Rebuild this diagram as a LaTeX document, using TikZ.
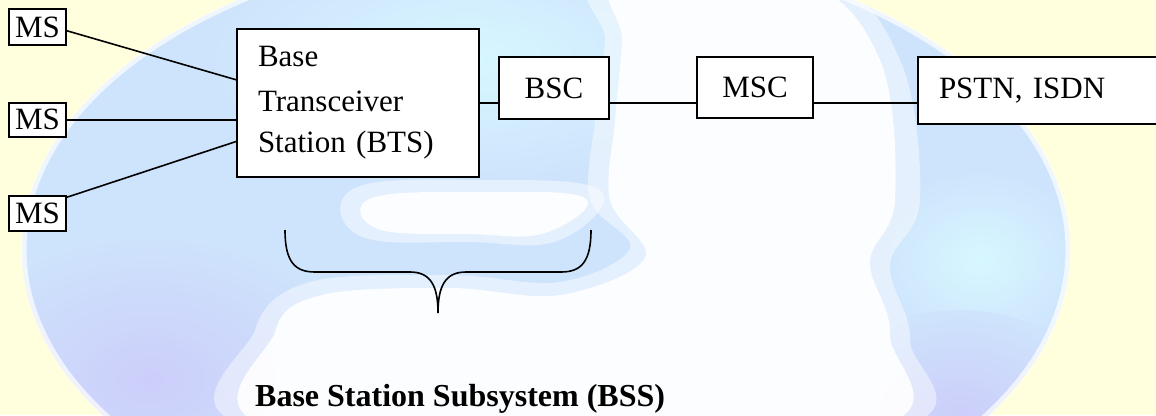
\documentclass[tikz,border=0pt]{standalone}
\usepackage{fontspec}
\setmainfont{LiberationSerif-Regular.ttf}[BoldFont=LiberationSerif-Bold.ttf]
\usetikzlibrary{calc}
\definecolor{bgyellow}{RGB}{255,255,222}
\definecolor{globeblue}{RGB}{206,228,252}
\definecolor{globeedge}{RGB}{204,206,250}
\definecolor{globecyan}{RGB}{215,247,255}
\tikzset{
  box/.style={draw=black, line width=2pt, fill=white, inner sep=0pt,
    font=\fontsize{31}{37}\selectfont},
  link/.style={draw=black, line width=1.6pt},
  land/.style={fill=white, opacity=0.9},
  landhalo/.style={fill=white, opacity=0.45},
}
\begin{document}
\begin{tikzpicture}[x=1pt, y=-1pt]
\useasboundingbox (0,0) rectangle (1156,415);
% background and globe
\fill[bgyellow] (0,0) rectangle (1156,415);
\begin{scope}
  \clip (546,250) ellipse [x radius=524, y radius=309];
  \fill[globeblue] (546,250) ellipse [x radius=524, y radius=309];
  \shade[inner color=globecyan, outer color=globeblue] (470,60) ellipse [x radius=260, y radius=120];
  \shade[inner color=globecyan, outer color=globeblue] (980,260) ellipse [x radius=110, y radius=90];
  \shade[inner color=globeedge, outer color=globeblue] (150,380) ellipse [x radius=220, y radius=150];
  \shade[inner color=globeedge, outer color=globeblue] (960,410) ellipse [x radius=140, y radius=100];
  % land (white)
  \fill[landhalo] plot[smooth cycle, tension=0.6] coordinates {(600,-20) (820,-20) (900,60) (920,200) (890,265) (910,340) (880,430) (265,430) (255,330) (310,282) (450,275) (560,282) (630,248) (590,200) (595,120) (605,40)};
  \fill[land] plot[smooth cycle, tension=0.6] coordinates {(620,-20) (800,-20) (880,60) (895,200) (870,262) (890,335) (860,430) (285,430) (275,332) (322,295) (450,288) (560,295) (645,258) (610,200) (615,120) (622,40)};
  \fill[landhalo] plot[smooth cycle, tension=0.7] coordinates {(355,188) (480,180) (600,190) (560,240) (470,242) (360,236)};
  \fill[land] plot[smooth cycle, tension=0.7] coordinates {(372,198) (480,192) (585,198) (545,233) (470,234) (378,229)};
\end{scope}
\draw[white, line width=5pt, opacity=0.7] (546,250) ellipse [x radius=522, y radius=307];
% nodes
\node[box, minimum width=57pt, minimum height=36pt] (ms1) at (37.5,27) {MS};
\node[box, minimum width=57pt, minimum height=34pt] (ms2) at (37.5,119.7) {MS};
\node[box, minimum width=57pt, minimum height=35pt] (ms3) at (37.5,213.5) {MS};
\node[box, minimum width=242pt, minimum height=148pt, text width=200pt, align=left,
  font=\fontsize{31}{43}\selectfont] (bts) at (358,103) {Base\\[2pt] Transceiver\\[-2pt] Station (BTS)};
\node[box, minimum width=110pt, minimum height=62pt] (bsc) at (554,88) {BSC};
\node[box, minimum width=116pt, minimum height=61pt] (msc) at (755,87.5) {MSC};
\node[box, minimum width=300pt, minimum height=67pt, text width=258pt, align=left] (pstn) at (1068,90.5) {PSTN, ISDN};
\node[font=\bfseries\fontsize{32}{38}\selectfont, anchor=base west, inner sep=0pt] (bss) at (255,406.5) {Base Station Subsystem (BSS)};
% connectors
\draw[link] ($(ms1.north east)!0.6!(ms1.south east)$) -- ($(bts.north west)!0.345!(bts.south west)$);
\draw[link] (ms2.east) -- (ms2.east -| bts.west);
\draw[link] ($(ms3.north east)!0.06!(ms3.south east)$) -- ($(bts.north west)!0.757!(bts.south west)$);
\draw[link] (bts.east) -- (bts.east -| bsc.west);
\draw[link] (bsc.east |- bts.east) -- (msc.west |- bts.east);
\draw[link] (msc.east |- bts.east) -- (pstn.west |- bts.east);
% brace
\draw[link] (285,230) .. controls (285,262) and (295,272) .. (315,272) -- (410,272)
  .. controls (430,272) and (438,285) .. (438,313)
  .. controls (438,285) and (446,272) .. (466,272) -- (561,272)
  .. controls (581,272) and (591,262) .. (591,230);
\end{tikzpicture}
\end{document}
